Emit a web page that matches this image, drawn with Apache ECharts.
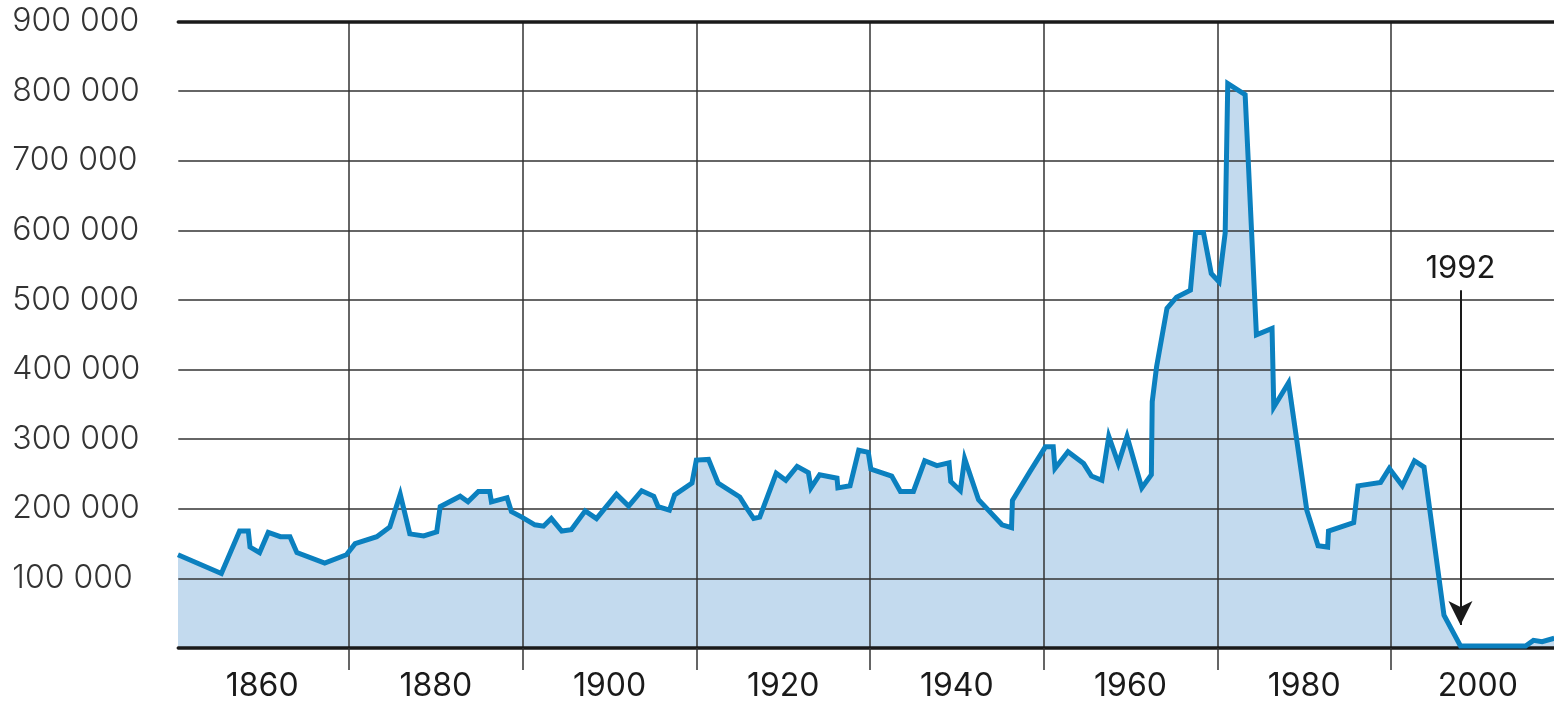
<!DOCTYPE html>
<html>
<head>
<meta charset="utf-8">
<script src="https://cdn.jsdelivr.net/npm/echarts@6/dist/echarts.min.js"></script>
<style>
  html, body { margin: 0; padding: 0; background: #fff; }
  #chart { width: 1554px; height: 702px; }
</style>
</head>
<body>
<div id="chart"></div>
<script>
// catch by year (tonnes)
const years = [
  1850.3, 1855.3, 1857.4, 1858.4, 1858.6, 1859.7, 1860.7, 1862.1, 1863.2, 1864.0,
  1867.2, 1869.7, 1870.7, 1873.2, 1874.7, 1875.9, 1877.0, 1878.6, 1880.1, 1880.5,
  1882.8, 1883.7, 1884.9, 1886.2, 1886.4, 1888.2, 1888.7, 1889.9, 1891.4, 1892.4,
  1893.3, 1894.5, 1895.6, 1897.2, 1898.5, 1900.8, 1902.2, 1903.7, 1905.1, 1905.6,
  1906.9, 1907.5, 1909.5, 1910.0, 1911.4, 1912.5, 1915.0, 1915.8, 1916.6, 1917.3,
  1919.2, 1920.3, 1921.6, 1922.9, 1923.2, 1924.2, 1926.2, 1926.3, 1927.7, 1928.7,
  1929.8, 1930.1, 1932.5, 1933.5, 1935.0, 1936.3, 1937.7, 1939.1, 1939.3, 1940.4,
  1940.9, 1942.5, 1945.2, 1946.3, 1946.4, 1948.4, 1950.2, 1951.1, 1951.3, 1952.8,
  1954.6, 1955.5, 1956.7, 1957.5, 1958.6, 1959.6, 1961.3, 1962.4, 1962.5, 1963.0,
  1964.2, 1965.3, 1966.9, 1967.5, 1968.4, 1969.3, 1970.2, 1970.9, 1971.2, 1973.2,
  1974.5, 1976.3, 1976.5, 1978.2, 1980.3, 1981.6, 1982.7, 1982.8, 1985.7, 1986.2,
  1988.8, 1989.8, 1991.3, 1992.7, 1993.8, 1996.1, 1998.0, 2005.5, 2006.4, 2007.4,
  2008.8
]
const catches = [
  134000, 107000, 168000, 168000, 145000, 137000, 166000, 160000, 160000, 137000,
  122000, 134000, 150000, 160000, 174000, 221000, 164000, 161000, 167000, 203000,
  218000, 210000, 225000, 225000, 210000, 216000, 196000, 188000, 177000, 175000,
  186000, 168000, 170000, 197000, 186000, 221000, 204000, 226000, 218000, 203000,
  198000, 220000, 237000, 270000, 271000, 237000, 217000, 201000, 186000, 188000,
  251000, 241000, 261000, 252000, 230000, 249000, 244000, 230000, 233000, 284000,
  281000, 257000, 247000, 225000, 225000, 269000, 262000, 266000, 239000, 226000,
  272000, 213000, 177000, 173000, 212000, 253000, 289000, 289000, 258000, 282000,
  265000, 247000, 241000, 304000, 265000, 304000, 230000, 249000, 354000, 404000,
  488000, 504000, 514000, 597000, 597000, 538000, 526000, 596000, 811000, 795000,
  450000, 459000, 346000, 381000, 198000, 147000, 145000, 168000, 180000, 233000,
  238000, 258000, 233000, 269000, 260000, 47000, 3000, 3000, 11000, 9000,
  14000
]

const xTickYears = [1870, 1890, 1910, 1930, 1950, 1970, 1990]
const xLabelYears = [1860, 1880, 1900, 1920, 1940, 1960, 1980, 2000]
const yLabels = ['', '100 000', '200 000', '300 000', '400 000', '500 000', '600 000', '700 000', '800 000', '900 000']

// annotation arrow
const noteLabel = '1992'
const noteYear = 1998
const noteFrom = 514000
const noteTo = 33000

const xMin = 1850.34
const xMax = 2008.77

const chart = echarts.init(document.getElementById('chart'))
const points = years.map((y, i) => [y, catches[i]])

const option = {
  animation: false,
  grid: { left: 178.3, right: 0, top: 21.6, bottom: 54 },
  xAxis: [
    {
      type: 'value',
      position: 'bottom',
      min: xMin,
      max: xMax,
      z: 1,
      axisLine: { show: true, lineStyle: { color: '#1a1a1a', width: 3.5 } },
      axisTick: {
        show: true,
        customValues: xTickYears,
        length: 22,
        lineStyle: { color: '#333', width: 1.5 }
      },
      axisLabel: {
        customValues: xLabelYears,
        margin: 22,
        color: '#1a1a1a',
        fontSize: 32,
        fontFamily: 'Inter',
        formatter: v => String(v)
      },
      splitLine: {
        show: true,
        lineStyle: { color: '#333', width: 1.5 }
      }
    },
    {
      type: 'value',
      position: 'top',
      min: xMin,
      max: xMax,
      z: 1,
      axisLine: { show: true, lineStyle: { color: '#1a1a1a', width: 3.5 } },
      axisTick: { show: false },
      axisLabel: { show: false },
      splitLine: { show: false }
    }
  ],
  yAxis: {
    type: 'value',
    min: 0,
    max: 900000,
    interval: 100000,
    z: 1,
    axisLine: { show: false },
    axisTick: { show: false },
    axisLabel: {
      align: 'left',
      margin: 166,
      padding: [5, 0, 0, 0],
      color: '#333',
      fontSize: 32,
      fontWeight: 300,
      fontFamily: 'Inter',
      formatter: v => yLabels[Math.round(v / 100000)]
    },
    splitLine: {
      show: true,
      showMinLine: false,
      showMaxLine: false,
      lineStyle: { color: '#333', width: 1.5 }
    }
  },
  series: [
    {
      // fill under the curve, kept below the grid lines
      type: 'line',
      data: points,
      z: 0,
      symbol: 'none',
      silent: true,
      lineStyle: { width: 0 },
      areaStyle: { color: '#c3daee', opacity: 1 }
    },
    {
      type: 'line',
      data: points,
      z: 3,
      symbol: 'none',
      lineStyle: { color: '#0b80bf', width: 5, join: 'miter' },
      markLine: {
        silent: true,
        symbol: ['none', 'arrow'],
        symbolSize: [18, 24],
        lineStyle: { color: '#1a1a1a', width: 2, type: 'solid' },
        label: {
          show: true,
          position: 'start',
          distance: 6,
          color: '#1a1a1a',
          fontSize: 31,
          fontFamily: 'Inter',
          formatter: noteLabel
        },
        data: [[
          { coord: [noteYear, noteFrom] },
          { coord: [noteYear, noteTo] }
        ]]
      }
    }
  ]
}

chart.setOption(option)
</script>
</body>
</html>
